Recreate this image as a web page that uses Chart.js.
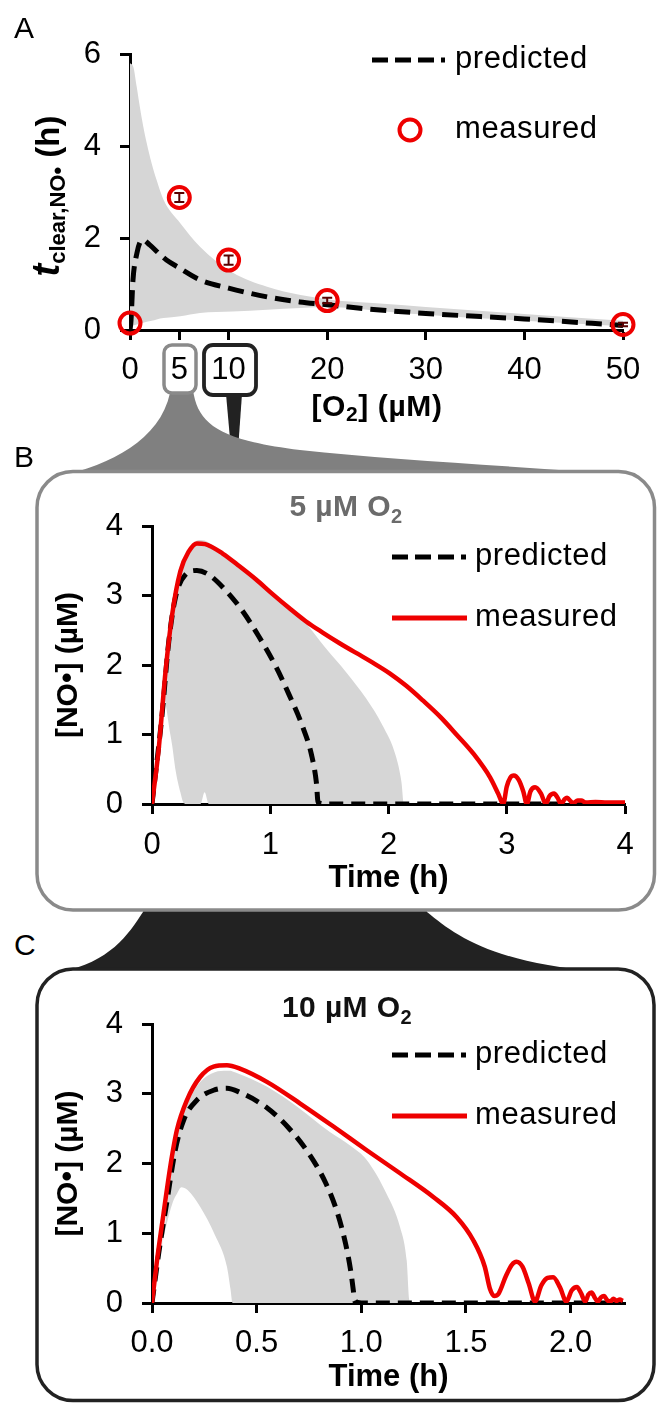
<!DOCTYPE html>
<html>
<head>
<meta charset="utf-8">
<title>NO clearance and O2</title>
<script src="https://cdn.jsdelivr.net/npm/chart.js@4.4.1/dist/chart.umd.min.js"></script>
<style>
  body { margin: 0; background: #fff; }
  #page { position: relative; width: 657px; height: 1404px; overflow: hidden; font-family: "Liberation Sans", Arial, sans-serif; color: #000; }
  #page svg, #page canvas, .txt { position: absolute; }
  .txt { white-space: nowrap; }
  .letter { font-size: 30px; line-height: 30px; left: 14px; }
  .leg { font-size: 31px; line-height: 31px; letter-spacing: 0.6px; }
  .ttl { font-size: 30px; line-height: 30px; font-weight: bold; width: 240px; text-align: center; letter-spacing: 0.4px; }
  .sb { font-size: 20px; line-height: 0; vertical-align: -7px; }
</style>
</head>
<body>
<div id="page">
  <svg width="657" height="1404">
    <!-- stem below the 10 box -->
    <path d="M226 394 L242 394 L238 450 L231 450 Z" fill="#222"/>
    <!-- black funnel from panel B into panel C -->
    <path d="M150 890 L420 890 L427 912 C455 935 490 962 600 972 L60 972 C110 962 128 935 143 912 Z" fill="#222"/>
    <!-- gray funnel from the 5 box into panel B -->
    <path d="M168 390 L193 390 C198 425 220 440 300 450 C400 461 520 466 640 476 L60 476 C110 465 160 440 170 393 Z" fill="#808080"/>
    <!-- panel boxes -->
    <rect x="37" y="471.5" width="617.5" height="438.5" rx="36" fill="#fff" stroke="#8a8a8a" stroke-width="3.5"/>
    <rect x="37" y="969" width="617" height="431.5" rx="36" fill="#fff" stroke="#222" stroke-width="3.5"/>
    <!-- callout boxes on panel A ticks -->
    <rect x="164" y="345" width="32" height="48" rx="8" fill="#fff" stroke="#8a8a8a" stroke-width="3.5"/>
    <rect x="204" y="345" width="52" height="50" rx="9" fill="#fff" stroke="#222" stroke-width="3.8"/>
    <!-- legend samples -->
    <line x1="372" y1="60" x2="445" y2="60" stroke="#000" stroke-width="5" stroke-dasharray="16 7 16 7 16 7 4 50"/>
    <circle cx="410" cy="130" r="10.5" fill="none" stroke="#ee0000" stroke-width="4"/>
    <line x1="392" y1="557" x2="467" y2="557" stroke="#000" stroke-width="5" stroke-dasharray="16 7 16 7 16 7 5 50"/>
    <line x1="392" y1="618" x2="467" y2="618" stroke="#ee0000" stroke-width="5"/>
    <line x1="392" y1="1055" x2="467" y2="1055" stroke="#000" stroke-width="5" stroke-dasharray="16 7 16 7 16 7 5 50"/>
    <line x1="392" y1="1116" x2="467" y2="1116" stroke="#ee0000" stroke-width="5"/>
  </svg>

  <canvas id="chartA" width="657" height="440" style="left:0;top:0"></canvas>
  <canvas id="chartB" width="657" height="420" style="left:0;top:480px"></canvas>
  <canvas id="chartC" width="657" height="420" style="left:0;top:980px"></canvas>

  <div class="txt letter" style="top:13px">A</div>
  <div class="txt letter" style="top:442px">B</div>
  <div class="txt letter" style="top:930px">C</div>

  <div class="txt leg" style="left:455px;top:42px">predicted</div>
  <div class="txt leg" style="left:455px;top:112px">measured</div>
  <div class="txt leg" style="left:475px;top:539px">predicted</div>
  <div class="txt leg" style="left:475px;top:600px">measured</div>
  <div class="txt leg" style="left:475px;top:1037px">predicted</div>
  <div class="txt leg" style="left:475px;top:1098px">measured</div>

  <div class="txt ttl" style="left:226px;top:491px;color:#6b6b6b">5 µM O<span class="sb">2</span></div>
  <div class="txt ttl" style="left:227px;top:992px;color:#111">10 µM O<span class="sb">2</span></div>

  <div class="txt" style="left:257px;top:391px;width:240px;text-align:center;font-size:30px;line-height:30px;font-weight:bold;letter-spacing:0.6px">[O<span style="font-size:21px;line-height:0;vertical-align:-5px">2</span>] (µM)</div>
  <div class="txt" style="left:-52px;top:181px;width:200px;height:30px;text-align:center;font-size:33px;line-height:30px;font-weight:bold;transform:rotate(-90deg)"><i style="font-size:38px;line-height:0">t</i><span style="font-size:22px;line-height:0;vertical-align:-6px">clear,NO•</span> (h)</div>
</div>

<script>
// ============================================
// DATA
// ============================================

// Panel A: clearance time vs O2
const o2Ticks = [0, 5, 10, 20, 30, 40, 50];
const tclearTicks = [0, 2, 4, 6];

const o2Measured = [0, 5, 10, 20, 50];
const tclearMeasured = [0.15, 2.88, 1.52, 0.64, 0.12];
const tclearError = [0, 0.1, 0.1, 0.06, 0.04];

const o2Predicted = [0, 0.1, 0.3, 0.7, 1.0, 1.3, 2.0, 3.0, 3.7, 5, 7.1, 10, 13.9, 17.2, 20, 24, 30, 40, 50];
const tclearPredicted = [0, 0.2, 1.08, 1.67, 1.9, 1.96, 1.85, 1.65, 1.52, 1.35, 1.09, 0.91, 0.72, 0.61, 0.55, 0.46, 0.36, 0.24, 0.1];

const o2Band = [0, 0.34, 0.68, 1.0, 1.35, 1.7, 2.2, 2.7, 3.4, 5.1, 7.1, 10.4, 13.9, 17.3, 20.3, 25, 30, 40, 50];
const tclearBandHigh = [5.8, 5.72, 5.29, 4.85, 4.42, 4.06, 3.62, 3.26, 2.83, 2.32, 1.81, 1.25, 0.94, 0.76, 0.66, 0.58, 0.5, 0.35, 0.2];
const tclearBandLow = [0.05, 0.1, 0.12, 0.14, 0.16, 0.18, 0.2, 0.23, 0.26, 0.3, 0.37, 0.4, 0.44, 0.48, 0.5, 0.42, 0.33, 0.2, 0.08];

// Panels B and C: [NO•] vs time, rows are [time, value]
const noTicks = [0, 1, 2, 3, 4];
const timeTicksB = [0, 1, 2, 3, 4];
const timeTicksC = [0, 0.5, 1.0, 1.5, 2.0];

const measuredB = [[0,0],[0.057,0.8],[0.114,1.9],[0.17,2.72],[0.24,3.35],[0.31,3.63],[0.38,3.75],[0.45,3.74],
  [0.6,3.6],[0.74,3.42],[0.88,3.23],[1.02,3.02],[1.16,2.82],[1.3,2.63],[1.44,2.47],[1.59,2.31],[1.73,2.17],
  [1.87,2.03],[2.01,1.88],[2.15,1.7],[2.29,1.49],[2.44,1.25],[2.58,0.99],[2.72,0.72],[2.86,0.38],[2.93,0.14],
  [2.97,0],[3.0,0.25],[3.03,0.38],[3.06,0.41],[3.1,0.35],[3.14,0.18],[3.17,0],[3.2,0.18],[3.24,0.24],[3.29,0.15],
  [3.33,0],[3.36,0.11],[3.4,0.15],[3.43,0.09],[3.46,0],[3.49,0.07],[3.51,0.09],[3.54,0.04],[3.56,0.01],
  [3.6,0.05],[3.63,0.05],[3.67,0.02],[3.75,0.03],[3.85,0.02],[4.0,0.02]];
const predictedB = [[0,0],[0.085,1.28],[0.142,2.34],[0.198,2.97],[0.283,3.3],[0.38,3.36],[0.48,3.3],[0.62,3.08],
  [0.76,2.79],[0.9,2.42],[1.05,1.97],[1.16,1.57],[1.27,1.13],[1.35,0.7],[1.39,0.31],[1.405,0.02],[1.5,0],[4,0]];
// rows are [time, low, high]
const bandB = [[0,0,0],[0.057,0.8,0.8],[0.1,1.55,1.62],[0.114,1.45,1.9],[0.155,1.0,2.5],[0.17,0.85,2.72],
  [0.2,0.48,3.05],[0.24,0.17,3.37],[0.265,0.02,3.5],[0.28,0,3.56],[0.31,0,3.66],[0.38,0,3.79],[0.41,0,3.8],
  [0.445,0.17,3.79],[0.48,0,3.76],[0.6,0,3.62],[0.74,0,3.43],[0.88,0,3.24],[1.02,0,3.03],[1.16,0,2.82],
  [1.3,0,2.6],[1.47,0,2.24],[1.64,0,1.9],[1.81,0,1.52],[1.95,0,1.13],[2.06,0,0.7],[2.11,0,0.31],[2.13,0,0],[4,0,0]];

const measuredC = [[0,0],[0.024,0.61],[0.055,1.28],[0.087,1.95],[0.119,2.48],[0.167,2.91],[0.23,3.24],[0.294,3.39],
  [0.358,3.41],[0.42,3.36],[0.549,3.17],[0.708,2.86],[0.867,2.53],[1.026,2.19],[1.185,1.86],[1.344,1.52],
  [1.456,1.23],[1.535,0.9],[1.59,0.52],[1.615,0.2],[1.635,0.1],[1.655,0.13],[1.69,0.38],[1.72,0.55],[1.742,0.59],
  [1.77,0.52],[1.8,0.28],[1.83,0.02],[1.86,0.25],[1.89,0.36],[1.917,0.37],[1.95,0.22],[1.98,0.02],[2.005,0.18],
  [2.03,0.23],[2.05,0.14],[2.07,0.02],[2.085,0.12],[2.1,0.15],[2.115,0.08],[2.13,0.02],[2.145,0.08],[2.16,0.1],
  [2.175,0.04],[2.19,0.02],[2.205,0.06],[2.22,0.03],[2.235,0.05],[2.25,0.03]];
const predictedC = [[0,0],[0.032,0.71],[0.072,1.47],[0.111,2.19],[0.151,2.62],[0.215,2.91],[0.294,3.05],[0.358,3.08],
  [0.42,3.02],[0.549,2.8],[0.65,2.52],[0.75,2.14],[0.83,1.72],[0.885,1.3],[0.925,0.85],[0.95,0.45],[0.962,0.18],
  [0.968,0.03],[1.0,0],[2.25,0]];
const bandC = [[0,0,0],[0.03,0.55,0.55],[0.06,1.0,1.07],[0.1,1.45,2.1],[0.12,1.57,2.4],[0.14,1.66,2.65],
  [0.17,1.62,2.88],[0.23,1.38,3.17],[0.3,0.98,3.31],[0.358,0.52,3.33],[0.375,0.2,3.33],[0.385,0,3.32],
  [0.42,0,3.28],[0.55,0,3.1],[0.7,0,2.8],[0.85,0,2.45],[0.95,0,2.25],[1.026,0,2.05],[1.12,0,1.57],
  [1.185,0,1.09],[1.217,0,0.61],[1.23,0,0.04],[1.24,0,0],[2.25,0,0]];

// ============================================
// SHARED STYLE
// ============================================

Chart.defaults.font.family = '"Liberation Sans", Arial, sans-serif';
Chart.defaults.color = '#000';

const RED = '#ee0000';
const BAND_GRAY = '#d6d6d6';
const CLEAR = 'rgba(0,0,0,0)';
const TICK_SIZE = 31;

function rowsToPoints(rows, col) {
    return rows.map(r => ({ x: r[0], y: r[col] }));
}

function fixedTicks(values) {
    return axis => { axis.ticks = values.map(v => ({ value: v })); };
}

function axisStyle(tickPad) {
    return {
        type: 'linear',
        grid: { drawOnChartArea: false, drawTicks: true, tickLength: 10, tickWidth: 3, tickColor: '#000' },
        border: { display: true, width: 3, color: '#000' },
        ticks: { font: { size: TICK_SIZE }, color: '#000', padding: tickPad, maxRotation: 0, autoSkip: false }
    };
}

function bandDatasets(highPts, lowPts) {
    return [
        { label: 'range high', data: highPts, fill: '+1', backgroundColor: BAND_GRAY, borderColor: CLEAR,
          borderWidth: 0, pointRadius: 0, cubicInterpolationMode: 'monotone' },
        { label: 'range low', data: lowPts, fill: false, borderColor: CLEAR,
          borderWidth: 0, pointRadius: 0, cubicInterpolationMode: 'monotone' }
    ];
}

// error bars on the measured circles of panel A
const errorBars = {
    id: 'errorBars',
    afterDatasetsDraw(chart) {
        const { ctx, scales: { x, y } } = chart;
        ctx.save();
        ctx.strokeStyle = '#5a0000';
        ctx.lineWidth = 2;
        o2Measured.forEach((o2, i) => {
            const err = tclearError[i];
            if (!err) return;
            const px = x.getPixelForValue(o2);
            const top = y.getPixelForValue(tclearMeasured[i] + err);
            const bot = y.getPixelForValue(tclearMeasured[i] - err);
            ctx.beginPath();
            ctx.moveTo(px, top); ctx.lineTo(px, bot);
            ctx.moveTo(px - 5, top); ctx.lineTo(px + 5, top);
            ctx.moveTo(px - 5, bot); ctx.lineTo(px + 5, bot);
            ctx.stroke();
        });
        ctx.restore();
    }
};

// ============================================
// PANEL A
// ============================================

const xA = axisStyle(12);
xA.min = 0; xA.max = 50;
xA.afterBuildTicks = fixedTicks(o2Ticks);
xA.afterFit = axis => { axis.height = 110; };

const yA = axisStyle(19);
yA.min = 0; yA.max = 6;
yA.afterBuildTicks = fixedTicks(tclearTicks);
yA.afterFit = axis => { axis.width = 130; };

new Chart(document.getElementById('chartA'), {
    type: 'line',
    data: {
        datasets: [
            { label: 'measured', data: o2Measured.map((v, i) => ({ x: v, y: tclearMeasured[i] })),
              showLine: false, pointRadius: 10.5, pointBorderWidth: 4, pointBorderColor: RED,
              pointBackgroundColor: CLEAR, clip: false },
            { label: 'predicted', data: o2Predicted.map((v, i) => ({ x: v, y: tclearPredicted[i] })),
              borderColor: '#000', borderWidth: 5, borderDash: [16, 8], pointRadius: 0,
              cubicInterpolationMode: 'monotone', fill: false },
            ...bandDatasets(
                o2Band.map((v, i) => ({ x: v, y: tclearBandHigh[i] })),
                o2Band.map((v, i) => ({ x: v, y: tclearBandLow[i] })))
        ]
    },
    options: {
        responsive: false, animation: false, devicePixelRatio: 1,
        layout: { padding: { left: 0, right: 34, top: 54, bottom: 0 } },
        plugins: { legend: { display: false }, tooltip: { enabled: false } },
        scales: { x: xA, y: yA }
    },
    plugins: [errorBars]
});

// ============================================
// PANELS B AND C
// ============================================

function timeCourseChart(id, cfg) {
    const x = axisStyle(cfg.tickPad);
    x.min = 0; x.max = cfg.maxTime;
    x.afterBuildTicks = fixedTicks(cfg.timeTicks);
    x.afterFit = axis => { axis.height = cfg.xHeight; };
    x.ticks.callback = cfg.timeLabel;
    x.title = { display: true, text: 'Time (h)', font: { size: 31, weight: 'bold' }, color: '#000',
                padding: { top: 0, bottom: cfg.titlePad } };

    const y = axisStyle(19);
    y.min = 0; y.max = 4;
    y.afterBuildTicks = fixedTicks(noTicks);
    y.afterFit = axis => { axis.width = 152; };
    y.title = { display: true, text: '[NO•] (µM)', font: { size: 30, weight: 'bold' }, color: '#000',
                padding: { top: 51, bottom: 0 } };

    new Chart(document.getElementById(id), {
        type: 'line',
        data: {
            datasets: [
                { label: 'measured', data: rowsToPoints(cfg.measured, 1), borderColor: RED, borderWidth: 4.5,
                  pointRadius: 0, cubicInterpolationMode: 'monotone', fill: false },
                { label: 'predicted', data: rowsToPoints(cfg.predicted, 1), borderColor: '#000', borderWidth: 5,
                  borderDash: [14, 8], pointRadius: 0, cubicInterpolationMode: 'monotone', fill: false },
                ...bandDatasets(rowsToPoints(cfg.band, 2), rowsToPoints(cfg.band, 1))
            ]
        },
        options: {
            responsive: false, animation: false, devicePixelRatio: 1,
            layout: { padding: { left: 0, right: 32, top: cfg.topPad, bottom: 0 } },
            plugins: { legend: { display: false }, tooltip: { enabled: false } },
            scales: { x: x, y: y }
        }
    });
}

timeCourseChart('chartB', {
    measured: measuredB, predicted: predictedB, band: bandB,
    timeTicks: timeTicksB, maxTime: 4, timeLabel: v => String(v),
    tickPad: 13, xHeight: 96, topPad: 46, titlePad: 3
});

timeCourseChart('chartC', {
    measured: measuredC, predicted: predictedC, band: bandC,
    timeTicks: timeTicksC, maxTime: 2.26, timeLabel: v => Number(v).toFixed(1),
    tickPad: 12, xHeight: 97, topPad: 44, titlePad: 4
});
</script>
</body>
</html>
